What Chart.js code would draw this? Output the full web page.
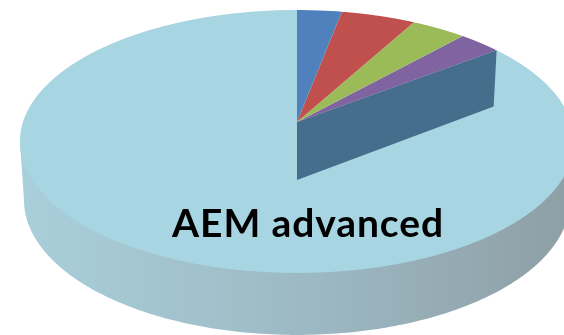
<!DOCTYPE html>
<html>
<head>
<meta charset="utf-8">
<style>
	html,body{margin:0;padding:0;background:#ffffff;overflow:hidden;}
	#pie_chart{display:block;}
</style>
<script src="https://cdn.jsdelivr.net/npm/chart.js@4/dist/chart.umd.min.js"></script>
</head>
<body>
<canvas id="pie_chart" width="564" height="335"></canvas>
<script>
//data, share of the pie in %
const slice_names = ["Slice 1","Slice 2","Slice 3","Slice 4","Slice 5"];
const slice_values = [3,5,3.7,2.9,85.4];
const slice_colors = ["#4f81bd","#c0504d","#9bbb59","#8064a2","#a8d5e2"];
const chart_label = "AEM advanced";

//perspective of the tilted disc, b is how fast it grows towards the viewer
const center_x = 297;
const persp = -0.148;
const top_face = {y0:122, c:128.6, a:274};
const bottom_face = {y0:180, c:132, a:270};

//unit circle point -> screen point
function project(x,y,face){
	let w = 1+persp*y;
	return [center_x+face.a*x/w, face.y0+face.c*y/w];
}

//the side of the disc, a hull around the front part of the bottom face
function drawRim(ctx){
	let t0 = Math.asin(-persp);
	let t1 = Math.PI-t0;
	let gradient = ctx.createLinearGradient(20,0,574,0);
	gradient.addColorStop(0,"#a9cfdb");
	gradient.addColorStop(0.5,"#9dbac4");
	gradient.addColorStop(1,"#8e9ea5");
	ctx.beginPath();
	let start = project(Math.cos(t0),Math.sin(t0),top_face);
	ctx.moveTo(start[0],start[1]);
	for(let i=0;i<=180;i++){
		let t = t0+(t1-t0)*i/180;
		let p = project(Math.cos(t),Math.sin(t),bottom_face);
		ctx.lineTo(p[0],p[1]);
	}
	let end = project(Math.cos(t1),Math.sin(t1),top_face);
	ctx.lineTo(end[0],end[1]);
	ctx.closePath();
	ctx.fillStyle = gradient;
	ctx.fill();
}

//canvas has no perspective transform, so the arcs are drawn row by row
//and every pixel row gets its own scale
function drawTopFace(ctx,arcs){
	let first = arcs[0];
	let r = first.outerRadius;
	for(let row=0;row<335;row++){
		let v = (row+0.5-top_face.y0)/top_face.c;
		let w = 1/(1-persp*v);
		let y = v*w;
		if(y<-1.02||y>1.02) continue;
		let sx = top_face.a/r/w;
		let sy = top_face.c/r/(w*w);
		ctx.save();
		ctx.beginPath();
		ctx.rect(0,row,564,1);
		ctx.clip();
		ctx.setTransform(sx,0,0,sy,center_x-sx*first.x,row+0.5-sy*(first.y+r*y));
		//biggest slice first so the small ones sit on top of it
		for(let i=arcs.length-1;i>=0;i--){
			arcs[i].draw(ctx);
		}
		ctx.restore();
	}
}

//dark wall under the last small slice
function drawWall(ctx,arcs){
	let angle = arcs[3].endAngle;
	let x = Math.cos(angle), y = Math.sin(angle);
	let a = project(0,0,top_face), b = project(x,y,top_face);
	let c = project(x,y,bottom_face), d = project(0,0,bottom_face);
	ctx.beginPath();
	ctx.moveTo(a[0],a[1]);
	ctx.lineTo(b[0],b[1]);
	ctx.lineTo(c[0],c[1]);
	ctx.lineTo(d[0],d[1]);
	ctx.closePath();
	ctx.fillStyle = "#466d8b";
	ctx.fill();
}

const disc_plugin = {
	id:"disc",
	beforeDatasetsDraw(chart){
		let ctx = chart.ctx;
		let arcs = chart.getDatasetMeta(0).data;
		drawRim(ctx);
		drawTopFace(ctx,arcs);
		drawWall(ctx,arcs);
		ctx.save();
		ctx.fillStyle = "#000000";
		ctx.font = "bold 39px Lato";
		ctx.letterSpacing = "0.9px";
		ctx.textAlign = "center";
		ctx.textBaseline = "alphabetic";
		ctx.fillText(chart_label,308,237);
		ctx.restore();
		return false; //normal flat drawing is not wanted
	}
};

new Chart(document.getElementById("pie_chart").getContext("2d"),{
	type:"pie",
	data:{
		labels:slice_names,
		datasets:[{
			data:slice_values,
			backgroundColor:slice_colors,
			borderWidth:0
		}]
	},
	options:{
		responsive:false,
		animation:false,
		layout:{padding:0},
		plugins:{legend:{display:false},tooltip:{enabled:false}}
	},
	plugins:[disc_plugin]
});
</script>
</body>
</html>
